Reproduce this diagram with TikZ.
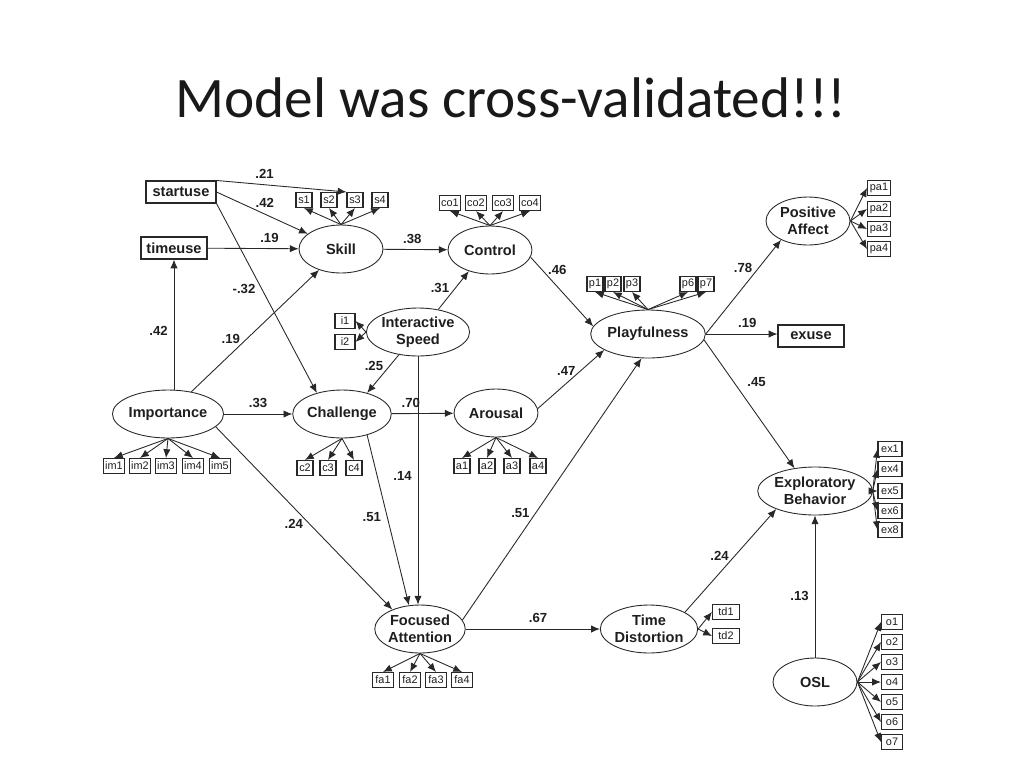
\documentclass[tikz,border=0pt]{standalone}
\usepackage{fontspec}
\setmainfont{Liberation Sans}
\newfontfamily\titlefont{Carlito}
\usetikzlibrary{shapes.geometric,arrows.meta,positioning,calc}
\definecolor{linegray}{RGB}{40,40,40}
\definecolor{textgray}{RGB}{30,30,30}

\begin{document}
\begin{tikzpicture}[
    x=0.02cm, y=-0.02cm,
    latent/.style={ellipse, draw=linegray, line width=0.5pt, minimum width=1.68cm, minimum height=0.96cm, inner sep=0pt, align=center, font=\bfseries\fontsize{8.3}{9.6}\selectfont, text=textgray},
    observed/.style={rectangle, draw=linegray, line width=0.6pt, minimum width=1.32cm, minimum height=0.44cm, inner sep=1pt, font=\bfseries\fontsize{8.3}{9.6}\selectfont, text=textgray},
    ind/.style={rectangle, draw=linegray, line width=0.6pt, minimum width=0.32cm, minimum height=0.3cm, inner sep=1pt, font=\fontsize{6.2}{7}\selectfont, text=textgray},
    coef/.style={font=\bfseries\fontsize{7.5}{8}\selectfont, text=textgray},
    arrow/.style={draw=linegray, line width=0.5pt, -{Latex[length=5pt,width=4.2pt]}}
]
\useasboundingbox (0,0) rectangle (1024,768);

\node[font=\titlefont\fontsize{32.6}{38}\selectfont, text=black!90, anchor=base] (title) at (511,117) {Model was cross-validated!!!};

% observed variables
\node[observed, minimum width=1.4cm] (startuse) at (181,192) {startuse};
\node[observed] (timeuse) at (174,248) {timeuse};
\node[observed] (exuse) at (811,336) {exuse};

% latent variables
\node[latent] (skill) at (341,249) {Skill};
\node[latent] (control) at (490,250) {Control};
\node[latent] (inter) at (418,332) {Interactive\\Speed};
\node[latent] (playful) at (648,334) {Playfulness};
\node[latent] (positive) at (808,221) {Positive\\Affect};
\node[latent] (importance) at (168,414) {Importance};
\node[latent] (challenge) at (342,414) {Challenge};
\node[latent] (arousal) at (496,413) {Arousal};
\node[latent, minimum width=1.76cm] (explore) at (815,491) {Exploratory\\Behavior};
\node[latent] (focused) at (420,629) {Focused\\Attention};
\node[latent] (timedist) at (649,629) {Time\\Distortion};
\node[latent] (osl) at (815,682) {OSL};

% indicators
\node[ind] (s1) at (304,200) {s1};
\node[ind] (s2) at (329,200) {s2};
\node[ind] (s3) at (355,200) {s3};
\node[ind] (s4) at (380,200) {s4};
\node[ind, minimum width=0.42cm] (co1) at (450,203) {co1};
\node[ind, minimum width=0.42cm] (co2) at (476,203) {co2};
\node[ind, minimum width=0.42cm] (co3) at (503,203) {co3};
\node[ind, minimum width=0.42cm] (co4) at (530,203) {co4};
\node[ind] (p1) at (595,284) {p1};
\node[ind] (p2) at (613,284) {p2};
\node[ind] (p3) at (632,284) {p3};
\node[ind] (p6) at (688,284) {p6};
\node[ind] (p7) at (706,284) {p7};
\node[ind, minimum width=0.46cm] (pa1) at (879,188) {pa1};
\node[ind, minimum width=0.46cm] (pa2) at (879,209) {pa2};
\node[ind, minimum width=0.46cm] (pa3) at (879,229) {pa3};
\node[ind, minimum width=0.46cm] (pa4) at (879,249) {pa4};
\node[ind, minimum width=0.4cm] (i1) at (345,321) {i1};
\node[ind, minimum width=0.4cm] (i2) at (345,342) {i2};
\node[ind, minimum width=0.42cm] (im1) at (114,466) {im1};
\node[ind, minimum width=0.42cm] (im2) at (140,466) {im2};
\node[ind, minimum width=0.42cm] (im3) at (166,466) {im3};
\node[ind, minimum width=0.42cm] (im4) at (193,466) {im4};
\node[ind, minimum width=0.42cm] (im5) at (220,466) {im5};
\node[ind] (c2) at (305,468) {c2};
\node[ind] (c3) at (328,468) {c3};
\node[ind] (c4) at (354,468) {c4};
\node[ind] (a1) at (462,466) {a1};
\node[ind] (a2) at (487,466) {a2};
\node[ind] (a3) at (512,466) {a3};
\node[ind] (a4) at (538,466) {a4};
\node[ind, minimum width=0.48cm] (ex1) at (890,449) {ex1};
\node[ind, minimum width=0.48cm] (ex4) at (890,469) {ex4};
\node[ind, minimum width=0.48cm] (ex5) at (890,491) {ex5};
\node[ind, minimum width=0.48cm] (ex6) at (890,511) {ex6};
\node[ind, minimum width=0.48cm] (ex8) at (890,530) {ex8};
\node[ind, minimum width=0.42cm] (fa1) at (383,680) {fa1};
\node[ind, minimum width=0.42cm] (fa2) at (410,680) {fa2};
\node[ind, minimum width=0.42cm] (fa3) at (436,680) {fa3};
\node[ind, minimum width=0.42cm] (fa4) at (462,680) {fa4};
\node[ind, minimum width=0.54cm] (td1) at (726,612) {td1};
\node[ind, minimum width=0.54cm] (td2) at (726,636) {td2};
\node[ind, minimum width=0.42cm] (o1) at (892,622) {o1};
\node[ind, minimum width=0.42cm] (o2) at (892,642) {o2};
\node[ind, minimum width=0.42cm] (o3) at (892,662) {o3};
\node[ind, minimum width=0.42cm] (o4) at (892,682) {o4};
\node[ind, minimum width=0.42cm] (o5) at (892,702) {o5};
\node[ind, minimum width=0.42cm] (o6) at (892,722) {o6};
\node[ind, minimum width=0.42cm] (o7) at (892,742) {o7};

% structural paths
\draw[arrow] (startuse.north east) -- node[coef, above, pos=0.37] {.21} (s3.north west);
\draw[arrow] (startuse.east) -- node[coef, above, pos=0.53] {.42} (skill);
\draw[arrow] (startuse.south east) -- node[coef, left, pos=0.45] {-.32} (challenge.140);
\draw[arrow] (timeuse) -- node[coef, above, pos=0.68] {.19} (skill);
\draw[arrow] (importance.north -| timeuse.south) -- node[coef, left, pos=0.45] {.42} (timeuse.south);
\draw[arrow] (importance) -- node[coef, left, pos=0.43] {.19} (skill);
\draw[arrow] (importance) -- node[coef, above] {.33} (challenge);
\draw[arrow] (importance.-15) -- node[coef, left, pos=0.53] {.24} (focused.145);
\draw[arrow] (skill) -- node[coef, above, pos=0.45] {.38} (control);
\draw[arrow] (inter.48) -- node[coef, left, pos=0.56] {.31} (control.-135);
\draw[arrow] (inter.-130) -- node[coef, left, pos=0.3] {.25} (challenge.40);
\draw[arrow] (inter.south) -- node[coef, left, pos=0.48] {.14} (inter.south |- focused.north);
\draw[arrow] (challenge) -- node[coef, above, pos=0.31] {.70} (arousal);
\draw[arrow] (challenge.-40) -- node[coef, left, pos=0.48] {.51} (focused.115);
\draw[arrow] (control.-10) -- node[coef, right, pos=0.18] {.46} (playful.172);
\draw[arrow] (arousal.6) -- node[coef, above left, pos=0.45, xshift=8] {.47} (playful.-160);
\draw[arrow] (focused.12) -- node[coef, left, pos=0.41] {.51} (playful.-105);
\draw[arrow] (focused) -- node[coef, above, pos=0.54] {.67} (timedist);
\draw[arrow] (timedist.25) -- node[coef, left, pos=0.55] {.24} (explore.-155);
\draw[arrow] (osl) -- node[coef, left, pos=0.43] {.13} (explore);
\draw[arrow] (playful.east) -- node[coef, left, pos=0.7] {.78} (positive.-145);
\draw[arrow] (playful.east) -- node[coef, above, pos=0.58] {.19} (playful.east -| exuse.west);
\draw[arrow] (playful.-6) -- node[coef, above right, pos=0.41] {.45} (explore.132);

% measurement paths
\draw[arrow] (skill.north) -- (s1.south);
\draw[arrow] (skill.north) -- (s2.south);
\draw[arrow] (skill.north) -- (s3.south);
\draw[arrow] (skill.north) -- (s4.south);
\draw[arrow] (control.north) -- (co1.south);
\draw[arrow] (control.north) -- (co2.south);
\draw[arrow] (control.north) -- (co3.south);
\draw[arrow] (control.north) -- (co4.south);
\draw[arrow] (playful.north) -- (p1.south);
\draw[arrow] (playful.north) -- (p2.south);
\draw[arrow] (playful.north) -- (p3.south);
\draw[arrow] (playful.north) -- (p6.south);
\draw[arrow] (playful.north) -- (p7.south);
\draw[arrow] (positive.east) -- (pa1.west);
\draw[arrow] (positive.east) -- (pa2.west);
\draw[arrow] (positive.east) -- (pa3.west);
\draw[arrow] (positive.east) -- (pa4.west);
\draw[arrow] (inter.west) -- (i1.east);
\draw[arrow] (inter.west) -- (i2.east);
\draw[arrow] (importance.south) -- (im1.north);
\draw[arrow] (importance.south) -- (im2.north);
\draw[arrow] (importance.south) -- (im3.north);
\draw[arrow] (importance.south) -- (im4.north);
\draw[arrow] (importance.south) -- (im5.north);
\draw[arrow] (challenge.south) -- (c2.north);
\draw[arrow] (challenge.south) -- (c3.north);
\draw[arrow] (challenge.south) -- (c4.north);
\draw[arrow] (arousal.south) -- (a1.north);
\draw[arrow] (arousal.south) -- (a2.north);
\draw[arrow] (arousal.south) -- (a3.north);
\draw[arrow] (arousal.south) -- (a4.north);
\draw[arrow] (explore.east) -- (ex1.west);
\draw[arrow] (explore.east) -- (ex4.west);
\draw[arrow] (explore.east) -- (ex5.west);
\draw[arrow] (explore.east) -- (ex6.west);
\draw[arrow] (explore.east) -- (ex8.west);
\draw[arrow] (focused.south) -- (fa1.north);
\draw[arrow] (focused.south) -- (fa2.north);
\draw[arrow] (focused.south) -- (fa3.north);
\draw[arrow] (focused.south) -- (fa4.north);
\draw[arrow] (timedist.east) -- (td1.west);
\draw[arrow] (timedist.east) -- (td2.west);
\draw[arrow] (osl.east) -- (o1.west);
\draw[arrow] (osl.east) -- (o2.west);
\draw[arrow] (osl.east) -- (o3.west);
\draw[arrow] (osl.east) -- (o4.west);
\draw[arrow] (osl.east) -- (o5.west);
\draw[arrow] (osl.east) -- (o6.west);
\draw[arrow] (osl.east) -- (o7.west);

\end{tikzpicture}
\end{document}
